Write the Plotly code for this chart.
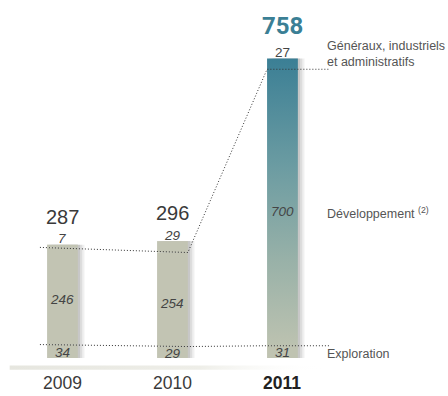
import plotly.graph_objects as go

# Investissements par catégorie (M$)
years = ["2009", "2010", "2011"]
exploration = [34, 29, 31]
developpement = [246, 254, 700]
generaux = [7, 29, 27]
totals = [287, 296, 758]

series_labels = ["Généraux, industriels<br>et administratifs", "Développement", "Exploration"]

# ---- geometry / style constants -------------------------------------------
xs = list(range(len(years)))
BAR_W = 0.28
HALF = BAR_W / 2
GREY_BAR = "#c2c4b3"
TEAL = "#3b7f95"
TEXT = "#3a3a3a"
FONT = "Liberation Sans"

# segment boundaries: top segment hangs from the total, exploration sits on 0
low = exploration
high = [t - g for t, g in zip(totals, generaux)]

fig = go.Figure()

# soft drop shadow on the right of every bar
for off, alpha in [(0.06, 0.09), (0.04, 0.12), (0.02, 0.16)]:
    fig.add_trace(go.Bar(
        x=xs, y=totals, base=[0] * len(xs), width=BAR_W, offset=-HALF + off,
        marker=dict(color=f"rgba(90,90,90,{alpha})", line=dict(width=0)),
        hoverinfo="skip", showlegend=False))

# 2009 / 2010 : plain stacked bars
plain = xs[:2]
segments = [
    ([0, 0], exploration[:2]),
    (low[:2], [h - l for h, l in zip(high[:2], low[:2])]),
    (high[:2], generaux[:2]),
]
for base, vals in segments:
    fig.add_trace(go.Bar(
        x=plain, y=vals, base=base, width=BAR_W, offset=-HALF,
        marker=dict(color=GREY_BAR, line=dict(width=0)),
        hoverinfo="skip", showlegend=False))

# 2011 : bar with a vertical gradient (teal on top, grey at the bottom)
i = 2
fig.add_trace(go.Scatter(
    x=[i - HALF, i + HALF, i + HALF, i - HALF, i - HALF],
    y=[low[i], low[i], totals[i], totals[i], low[i]],
    mode="lines", fill="toself", line=dict(width=0),
    fillgradient=dict(type="vertical",
                      colorscale=[[0, "#bcc2b0"], [0.3, "#98b1a8"],
                                  [0.62, "#6c9ca2"], [1, TEAL]]),
    hoverinfo="skip", showlegend=False))
fig.add_trace(go.Bar(
    x=[i], y=[exploration[i]], base=[0], width=BAR_W, offset=-HALF,
    marker=dict(color="#bfc3b1", line=dict(width=0)),
    hoverinfo="skip", showlegend=False))

# ground band under the bars, fading out to the right
fig.add_trace(go.Scatter(
    x=[-0.48, 2.4, 2.4, -0.48, -0.48], y=[-19, -19, -30, -30, -19],
    mode="lines", fill="toself", line=dict(width=0),
    fillgradient=dict(type="horizontal",
                      colorscale=[[0, "#e6e6df"], [0.6, "#eeeee8"],
                                  [1, "rgba(255,255,255,0)"]]),
    hoverinfo="skip", showlegend=False))

# dotted connectors between segment boundaries
dot = dict(color="#333333", width=1, dash="1px,2px")
x_start, x_end = -0.205, 2.43
fig.add_trace(go.Scatter(
    x=[x_start, 1 + HALF, 2 - HALF, x_end],
    y=[high[0], high[1], high[2], high[2]],
    mode="lines", line=dot, hoverinfo="skip", showlegend=False))
fig.add_trace(go.Scatter(
    x=[x_start, 1 + HALF, 2 - HALF, x_end],
    y=[low[0], low[1], low[2], low[2]],
    mode="lines", line=dot, hoverinfo="skip", showlegend=False))

ann = []
seg_font = dict(family=FONT, size=13.5, color="#444444")
for k in xs:
    # value inside / above each segment
    ann.append(dict(x=k, y=exploration[k] / 2, text=f"<i>{exploration[k]}</i>",
                    showarrow=False, font=seg_font, yanchor="middle", yshift=-1))
    ann.append(dict(x=k, y=(low[k] + high[k]) / 2,
                    text=f"<i>{developpement[k]}</i>",
                    showarrow=False, font=seg_font, yanchor="middle", yshift=-4))
    top_txt = f"{generaux[k]}" if k == 2 else f"<i>{generaux[k]}</i>"
    ann.append(dict(x=k, y=totals[k], text=top_txt, showarrow=False,
                    font=seg_font, yanchor="middle", yshift=6))
    # totals
    if k == 2:
        ann.append(dict(x=k, y=totals[k], text=f"<b>{totals[k]}</b>",
                        showarrow=False, yanchor="middle", yshift=33,
                        font=dict(family="Roboto", size=24, color=TEAL)))
    else:
        ann.append(dict(x=k, y=totals[k], text=f"{totals[k]}",
                        showarrow=False, yanchor="middle", yshift=28,
                        font=dict(family=FONT, size=20, color=TEXT)))
    # year labels
    ann.append(dict(x=k, y=0, text=f"<b>{years[k]}</b>" if k == 2 else years[k],
                    showarrow=False, yanchor="middle", yshift=-25,
                    font=dict(family=FONT, size=17.5,
                              color="#222222" if k == 2 else TEXT)))

lab_font = dict(family=FONT, size=12.5, color="#555555")
lx = 2.39
ann.append(dict(x=lx, y=totals[2], text=series_labels[0], xanchor="left",
                yanchor="middle", yshift=5, align="left", showarrow=False,
                font=lab_font))
ann.append(dict(x=lx, y=(low[2] + high[2]) / 2,
                text=series_labels[1] + " <sup>(2)</sup>", xanchor="left",
                yanchor="middle", yshift=-5, showarrow=False, font=lab_font))
ann.append(dict(x=lx, y=exploration[2] / 2, text=series_labels[2],
                xanchor="left", yanchor="middle", yshift=-2,
                showarrow=False, font=lab_font))

fig.update_layout(
    width=448, height=396,
    margin=dict(l=0, r=0, t=0, b=0),
    paper_bgcolor="white", plot_bgcolor="white",
    barmode="overlay",
    showlegend=False,
    annotations=ann,
    xaxis=dict(range=[-0.568, 3.505], visible=False, fixedrange=True),
    yaxis=dict(range=[-96.2, 906.3], visible=False, fixedrange=True),
)

fig.write_html("out.html")
